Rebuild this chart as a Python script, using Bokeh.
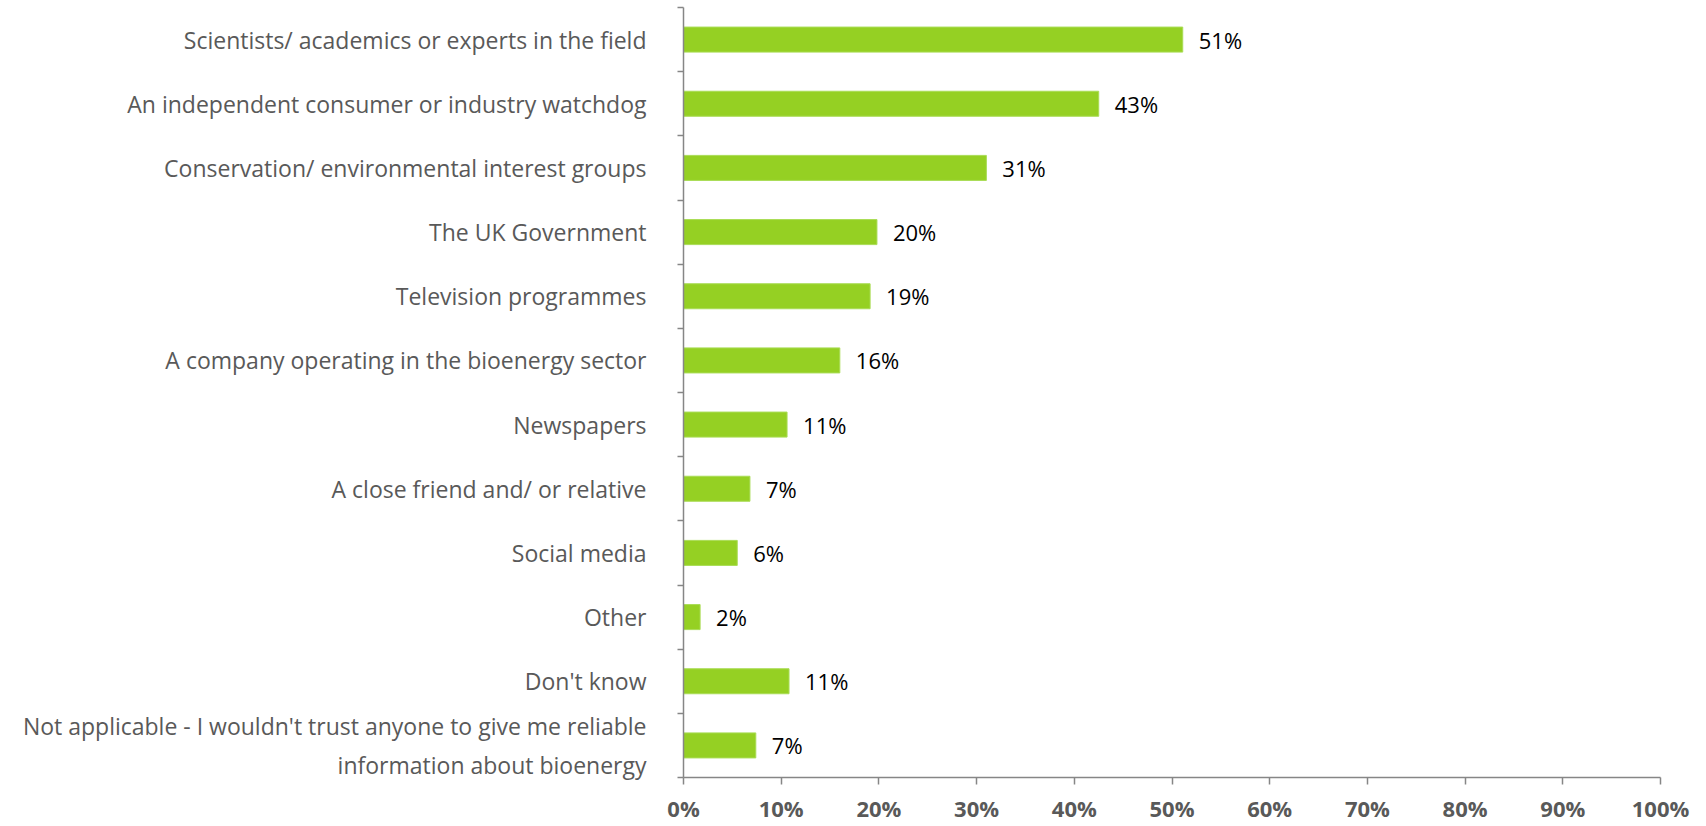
from bokeh.plotting import figure
from bokeh.models import Range1d, FixedTicker, LinearAxis, ColumnDataSource
from bokeh.core.properties import value
from bokeh.embed import file_html
from bokeh.resources import INLINE

categories = [
    "Scientists/ academics or experts in the field",
    "An independent consumer or industry watchdog",
    "Conservation/ environmental interest groups",
    "The UK Government",
    "Television programmes",
    "A company operating in the bioenergy sector",
    "Newspapers",
    "A close friend and/ or relative",
    "Social media",
    "Other",
    "Don't know",
    "Not applicable - I wouldn't trust anyone to give me reliable\ninformation about bioenergy",
]
values = [51.1, 42.5, 31.0, 19.8, 19.1, 16.0, 10.6, 6.8, 5.5, 1.7, 10.8, 7.4]
value_labels = ["51%", "43%", "31%", "20%", "19%", "16%", "11%", "7%", "6%", "2%", "11%", "7%"]
x_ticks = [0, 10, 20, 30, 40, 50, 60, 70, 80, 90, 100]
x_tick_labels = ["0%", "10%", "20%", "30%", "40%", "50%", "60%", "70%", "80%", "90%", "100%"]

n = len(categories)
ypos = [n - 1 - i for i in range(n)]
src = ColumnDataSource(dict(y=ypos, v=values, lab=value_labels))

FONT = "Open Sans"
GRAY = "#595959"
AXIS = "#868686"

p = figure(width=1690, height=825, output_backend="svg", toolbar_location=None,
           x_range=Range1d(0, 100), y_range=Range1d(-0.5, n - 0.5),
           x_axis_location=None, y_axis_location=None,
           min_border_left=683, min_border_right=30, min_border_top=7, min_border_bottom=0)
p.outline_line_color = None
p.xgrid.visible = False
p.ygrid.visible = False

p.hbar(y="y", right="v", left=0, height=0.39, source=src,
       fill_color="#95D023", line_color="#A9DC55", line_width=1)
p.text(x="v", y="y", text="lab", source=src, x_offset=16, text_baseline="middle",
       text_align="left", text_color="#000000", text_font=value(FONT), text_font_size="22px")

# category axis: labels at band centres, ticks at band boundaries
yax = LinearAxis(ticker=FixedTicker(ticks=ypos, minor_ticks=[k - 0.5 for k in range(n + 1)]))
yax.major_label_overrides = {float(y): c for y, c in zip(ypos, categories)}
yax.major_label_overrides.update({int(y): c for y, c in zip(ypos, categories)})
yax.major_tick_out = 0
yax.major_tick_in = 0
yax.minor_tick_out = 6
yax.minor_tick_in = 0
yax.minor_tick_line_color = AXIS
yax.minor_tick_line_width = 1.5
yax.axis_line_color = AXIS
yax.axis_line_width = 1.5
yax.major_label_standoff = 31
yax.major_label_text_font = FONT
yax.major_label_text_font_size = "23px"
yax.major_label_text_color = GRAY
p.add_layout(yax, "left")

# value axis
xax = LinearAxis(ticker=FixedTicker(ticks=x_ticks, minor_ticks=[]))
xax.major_label_overrides = {t: s for t, s in zip(x_ticks, x_tick_labels)}
xax.major_label_overrides.update({float(t): s for t, s in zip(x_ticks, x_tick_labels)})
xax.major_tick_out = 7
xax.major_tick_in = 0
xax.major_tick_line_color = AXIS
xax.major_tick_line_width = 1.5
xax.axis_line_color = AXIS
xax.axis_line_width = 1.5
xax.major_label_standoff = 8
xax.major_label_text_font = FONT
xax.major_label_text_font_size = "22px"
xax.major_label_text_font_style = "bold"
xax.major_label_text_color = GRAY
p.add_layout(xax, "below")

open("out.html", "w").write(file_html(p, INLINE))
